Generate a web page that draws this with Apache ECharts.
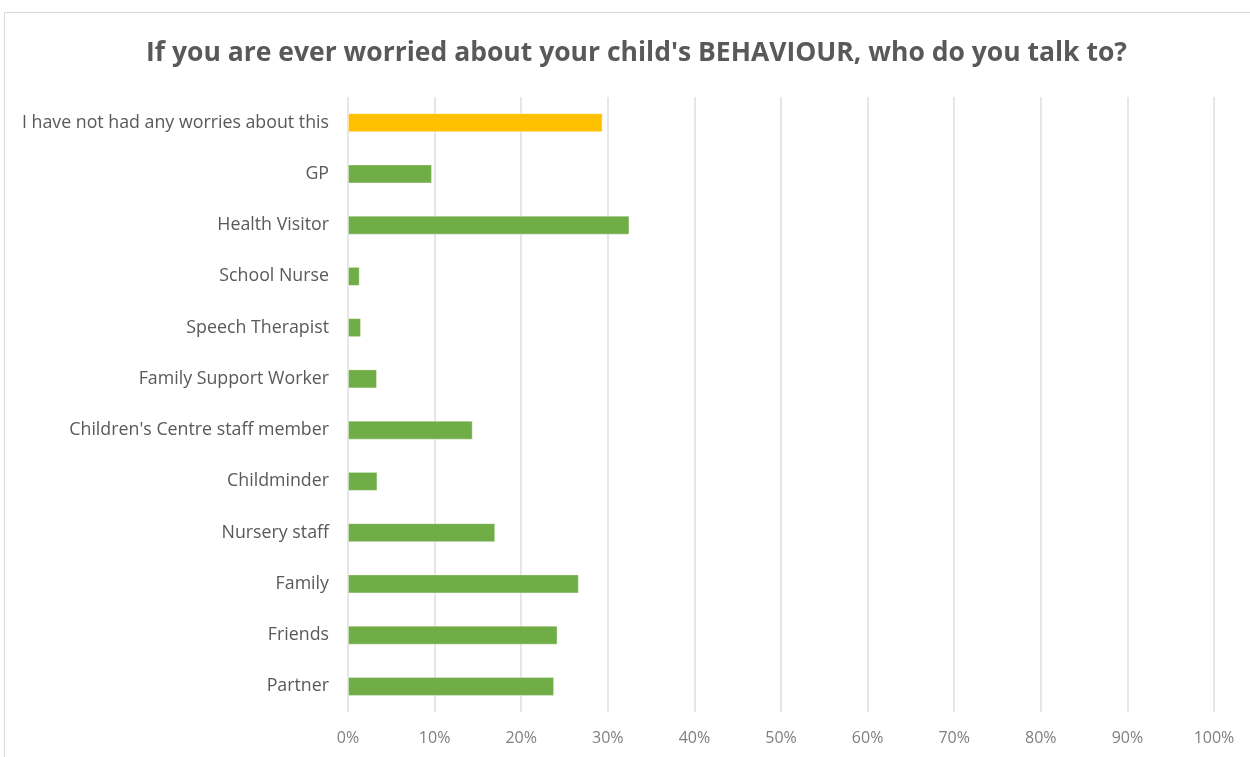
<!DOCTYPE html>
<html>
<head>
<meta charset="utf-8">
<script src="https://cdn.jsdelivr.net/npm/echarts@6/dist/echarts.min.js"></script>
<style>
  html, body { margin: 0; padding: 0; background: #fff; }
  #frame { position: absolute; left: 4px; top: 12px; width: 1260px; height: 760px; border: 1px solid #d9d9d9; box-sizing: border-box; }
  #chart { position: absolute; left: 0; top: 0; width: 1250px; height: 757px; }
</style>
</head>
<body>
<div id="frame"></div>
<div id="chart"></div>
<script>
// Answer options, top to bottom
const categories = [
  'I have not had any worries about this',
  'GP',
  'Health Visitor',
  'School Nurse',
  'Speech Therapist',
  'Family Support Worker',
  "Children's Centre staff member",
  'Childminder',
  'Nursery staff',
  'Family',
  'Friends',
  'Partner'
];
// Share of respondents (%)
const shares = [29.4, 9.7, 32.5, 1.35, 1.5, 3.35, 14.4, 3.4, 17.0, 26.65, 24.2, 23.8];
// First option is highlighted
const barColors = ['#FFC000', '#70AD47', '#70AD47', '#70AD47', '#70AD47', '#70AD47',
                   '#70AD47', '#70AD47', '#70AD47', '#70AD47', '#70AD47', '#70AD47'];
const xTicks = [0, 10, 20, 30, 40, 50, 60, 70, 80, 90, 100];

const chart = echarts.init(document.getElementById('chart'), null, { renderer: 'canvas' });
chart.setOption({
  backgroundColor: 'transparent',
  animation: false,
  title: {
    text: "If you are ever worried about your child's BEHAVIOUR, who do you talk to?",
    left: 141,
    top: 35,
    textStyle: { fontFamily: 'Open Sans', fontSize: 26.5, fontWeight: 'bold', color: '#595959' }
  },
  grid: { left: 348, right: 36, top: 97, bottom: 45, containLabel: false },
  xAxis: {
    type: 'value',
    min: xTicks[0],
    max: xTicks[xTicks.length - 1],
    interval: 10,
    axisLine: { show: false },
    axisTick: { show: false },
    splitLine: { show: true, lineStyle: { color: '#e6e6e6', width: 2 } },
    axisLabel: {
      formatter: v => v + '%',
      color: '#7f7f7f',
      fontFamily: 'Open Sans',
      fontSize: 16,
      margin: 18
    }
  },
  yAxis: {
    type: 'category',
    data: categories,
    inverse: true,
    axisLine: { show: false },
    axisTick: { show: false },
    splitLine: { show: false },
    axisLabel: {
      color: '#595959',
      fontFamily: 'Open Sans',
      fontSize: 17.8,
      margin: 19
    }
  },
  series: [{
    type: 'bar',
    data: shares.map((v, i) => ({ value: v, itemStyle: { color: barColors[i] } })),
    barWidth: 19,
    itemStyle: { borderColor: 'rgba(255,255,255,0.35)', borderWidth: 1 }
  }]
});
</script>
</body>
</html>
